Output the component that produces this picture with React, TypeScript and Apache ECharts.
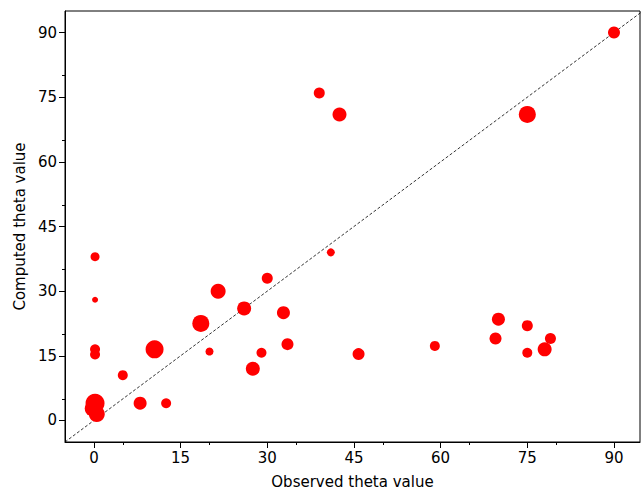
import * as echarts from "echarts"
import { useEffect, useRef } from "react"

const observed = [0.2, 0.2, 0.2, 0.2, 0.2, -0.2, 0.5, 5, 8, 10.5, 12.5, 18.5, 20, 21.5, 26, 27.5, 29, 30, 32.8, 33.5, 39, 41, 42.5, 45.8, 59, 69.5, 70, 75, 75, 75, 78, 79, 90]
const computed = [38, 28, 16.5, 15.3, 4, 2.8, 1.5, 10.5, 4, 16.5, 4, 22.5, 16, 30, 26, 12, 15.7, 33, 25, 17.7, 76, 39, 71, 15.4, 17.3, 19, 23.5, 71, 22, 15.7, 16.5, 19, 90]
const sizes = [9, 6, 10, 10, 19, 16, 16, 10, 13, 18, 10, 17, 8, 15, 14, 14, 10, 11, 13, 12, 11, 8, 14, 12, 10, 12, 13, 17, 11, 10, 14, 11, 12]
const ticks = [0, 15, 30, 45, 60, 75, 90]

export default function App() {
  const node = useRef<HTMLDivElement>(null)

  useEffect(() => {
    if (!node.current) return
    document.body.style.margin = "0"
    const chart = echarts.init(node.current, undefined, { renderer: "svg" })
    const axisCommon = {
      type: "value" as const,
      interval: 15,
      axisLine: { show: true, onZero: false, lineStyle: { color: "#000", width: 1 } },
      axisTick: { show: true, length: 6, lineStyle: { color: "#000" } },
      minorTick: { show: true, splitNumber: 3, length: 3, lineStyle: { color: "#000" } },
      splitLine: { show: false },
      axisLabel: {
        color: "#000",
        fontSize: 15,
        fontFamily: "DejaVu Sans",
        customValues: ticks,
      },
      nameLocation: "middle" as const,
      nameTextStyle: { color: "#000", fontSize: 15, fontFamily: "DejaVu Sans" },
    }
    chart.setOption({
      animation: false,
      grid: { top: 11, left: 65, right: 1, bottom: 51, show: true, borderColor: "#000", borderWidth: 1 },
      xAxis: {
        ...axisCommon,
        min: -5,
        max: 94.5,
        name: "Observed theta value",
        nameGap: 32,
        axisTick: { ...axisCommon.axisTick, customValues: ticks },
      },
      yAxis: {
        ...axisCommon,
        min: -5,
        max: 95,
        name: "Computed theta value",
        nameGap: 38,
        axisTick: { ...axisCommon.axisTick, customValues: ticks },
      },
      series: [
        {
          type: "line",
          data: [[-5, -5], [95, 95]],
          showSymbol: false,
          lineStyle: { color: "#000", width: 0.8, type: [3, 2] },
          silent: true,
          z: 1,
        },
        {
          type: "scatter",
          data: observed.map((x, i) => [x, computed[i], sizes[i]]),
          symbolSize: (d: number[]) => d[2],
          itemStyle: { color: "#ff0000", opacity: 1 },
          z: 2,
        },
      ],
    })
    return () => chart.dispose()
  }, [])

  return <div ref={node} style={{ width: 641, height: 494 }} />
}
